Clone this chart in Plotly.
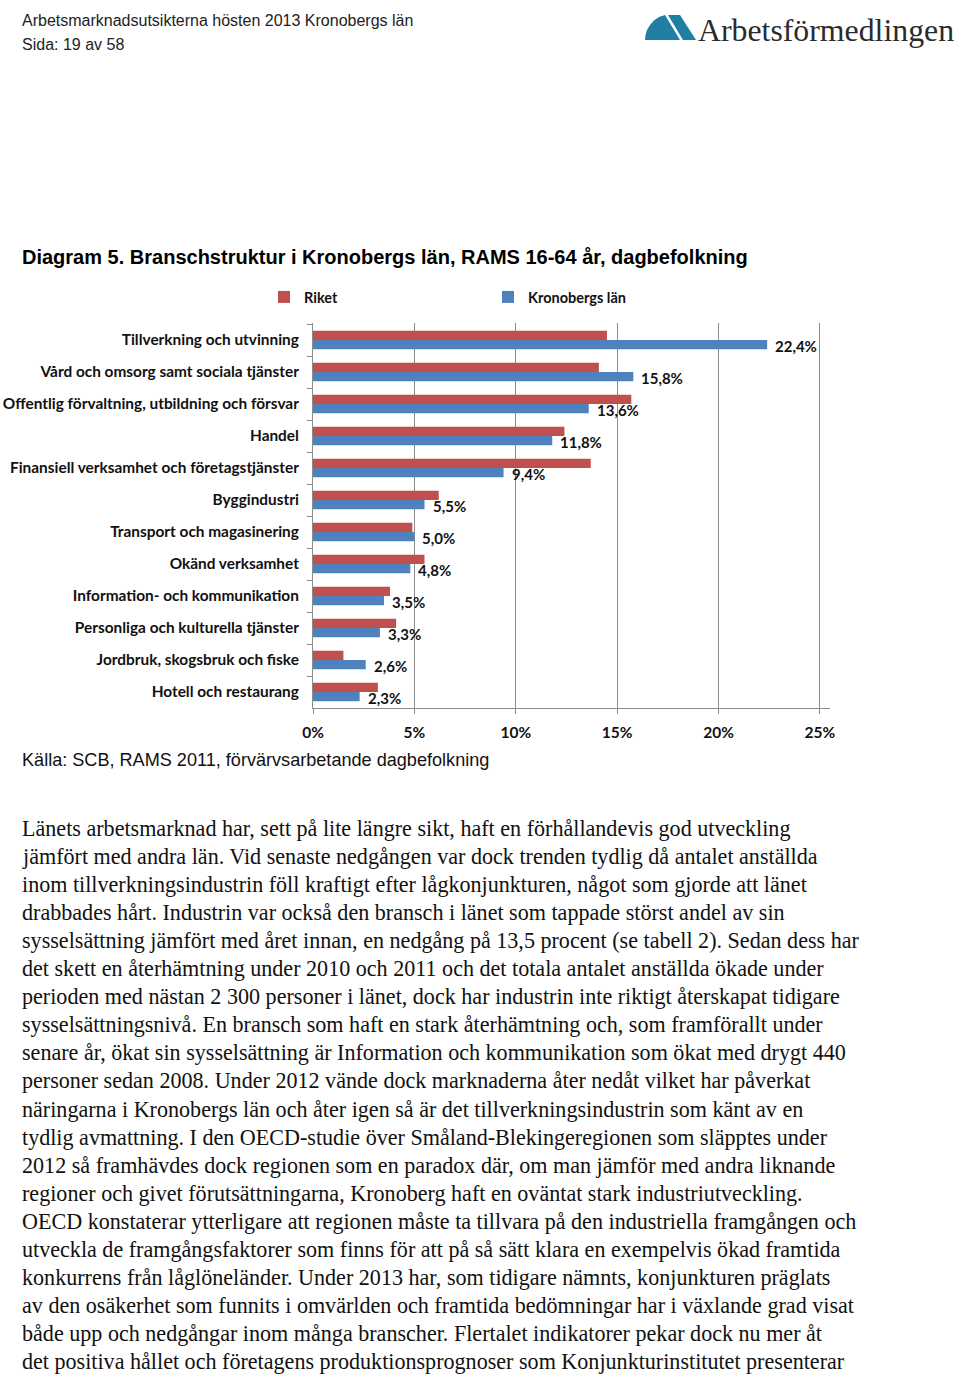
import plotly.graph_objects as go

# ---------------- data ----------------
categories = [
    "Tillverkning och utvinning",
    "Vård och omsorg samt sociala tjänster",
    "Offentlig förvaltning, utbildning och försvar",
    "Handel",
    "Finansiell verksamhet och företagstjänster",
    "Byggindustri",
    "Transport och magasinering",
    "Okänd verksamhet",
    "Information- och kommunikation",
    "Personliga och kulturella tjänster",
    "Jordbruk, skogsbruk och fiske",
    "Hotell och restaurang",
]
riket = [14.5, 14.1, 15.7, 12.4, 13.7, 6.2, 4.9, 5.5, 3.8, 4.1, 1.5, 3.2]
kronoberg = [22.4, 15.8, 13.6, 11.8, 9.4, 5.5, 5.0, 4.8, 3.5, 3.3, 2.6, 2.3]
series_names = ["Riket", "Kronobergs län"]
x_tick_vals = [0, 5, 10, 15, 20, 25]
x_tick_labels = ["0%", "5%", "10%", "15%", "20%", "25%"]

header_lines = ["Arbetsmarknadsutsikterna hösten 2013 Kronobergs län", "Sida: 19 av 58"]
logo_text = "Arbetsförmedlingen"
title_text = "Diagram 5. Branschstruktur i Kronobergs län, RAMS 16-64 år, dagbefolkning"
source_text = "Källa: SCB, RAMS 2011, förvärvsarbetande dagbefolkning"
body_lines = [
    "Länets arbetsmarknad har, sett på lite längre sikt, haft en förhållandevis god utveckling",
    "jämfört med andra län. Vid senaste nedgången var dock trenden tydlig då antalet anställda",
    "inom tillverkningsindustrin föll kraftigt efter lågkonjunkturen, något som gjorde att länet",
    "drabbades hårt. Industrin var också den bransch i länet som tappade störst andel av sin",
    "sysselsättning jämfört med året innan, en nedgång på 13,5 procent (se tabell 2). Sedan dess har",
    "det skett en återhämtning under 2010 och 2011 och det totala antalet anställda ökade under",
    "perioden med nästan 2 300 personer i länet, dock har industrin inte riktigt återskapat tidigare",
    "sysselsättningsnivå. En bransch som haft en stark återhämtning och, som framförallt under",
    "senare år, ökat sin sysselsättning är Information och kommunikation som ökat med drygt 440",
    "personer sedan 2008. Under 2012 vände dock marknaderna åter nedåt vilket har påverkat",
    "näringarna i Kronobergs län och åter igen så är det tillverkningsindustrin som känt av en",
    "tydlig avmattning. I den OECD-studie över Småland-Blekingeregionen som släpptes under",
    "2012 så framhävdes dock regionen som en paradox där, om man jämför med andra liknande",
    "regioner och givet förutsättningarna, Kronoberg haft en oväntat stark industriutveckling.",
    "OECD konstaterar ytterligare att regionen måste ta tillvara på den industriella framgången och",
    "utveckla de framgångsfaktorer som finns för att på så sätt klara en exempelvis ökad framtida",
    "konkurrens från låglöneländer. Under 2013 har, som tidigare nämnts, konjunkturen präglats",
    "av den osäkerhet som funnits i omvärlden och framtida bedömningar har i växlande grad visat",
    "både upp och nedgångar inom många branscher. Flertalet indikatorer pekar dock nu mer åt",
    "det positiva hållet och företagens produktionsprognoser som Konjunkturinstitutet presenterar",
]

# ---------------- helpers ----------------
W, H = 960, 1376
def px(x):
    return x / W
def py(y):
    return 1 - y / H

RED = "#C0504D"
BLUE = "#4F81BD"
GRID = "#8C8C8C"
CHART_FONT = "Lato"

fig = go.Figure()
fig.add_trace(go.Bar(y=categories, x=riket, name=series_names[0], orientation="h",
                     marker=dict(color=RED, line=dict(width=0))))
fig.add_trace(go.Bar(y=categories, x=kronoberg, name=series_names[1], orientation="h",
                     marker=dict(color=BLUE, line=dict(width=0))))

annotations = []
# data labels for Kronobergs län
for cat, v in zip(categories, kronoberg):
    annotations.append(dict(
        x=v, y=cat, xref="x", yref="y", showarrow=False,
        text=f"{v:.1f}".replace(".", ",") + "%",
        xanchor="left", yanchor="middle", xshift=6, yshift=-6,
        font=dict(family=CHART_FONT, size=15, color="#111", weight="bold"),
    ))

# header
annotations.append(dict(x=px(20), y=py(20), xref="paper", yref="paper", showarrow=False,
                        text=header_lines[0], xanchor="left", yanchor="middle",
                        font=dict(family="Liberation Sans", size=16, color="#222")))
annotations.append(dict(x=px(20), y=py(44), xref="paper", yref="paper", showarrow=False,
                        text=header_lines[1], xanchor="left", yanchor="middle",
                        font=dict(family="Liberation Sans", size=16, color="#222")))
# logo text
annotations.append(dict(x=px(696), y=py(31), xref="paper", yref="paper", showarrow=False,
                        text=logo_text, xanchor="left", yanchor="middle",
                        font=dict(family="Liberation Serif", size=31.8, color="#2b2b2b")))
# title
annotations.append(dict(x=px(20), y=py(257), xref="paper", yref="paper", showarrow=False,
                        text=title_text, xanchor="left", yanchor="middle",
                        font=dict(family="Liberation Sans", size=20, color="#000", weight="bold")))
# source
annotations.append(dict(x=px(20), y=py(760), xref="paper", yref="paper", showarrow=False,
                        text=source_text, xanchor="left", yanchor="middle",
                        font=dict(family="Liberation Sans", size=18.1, color="#111")))
# body text
for i, line in enumerate(body_lines):
    annotations.append(dict(x=px(20), y=py(828 + i * 28.1), xref="paper", yref="paper",
                            showarrow=False, text=line, xanchor="left", yanchor="middle",
                            font=dict(family="Liberation Serif", size=22.1, color="#111")))

# logo icon shapes (decoration)
def path_from(points):
    return "M " + " L ".join(f"{px(x):.5f},{py(y):.5f}" for x, y in points) + " Z"

shapes = [
    dict(type="path", xref="paper", yref="paper", line=dict(width=0), fillcolor="#1F7EA1",
         path=path_from([(645, 40), (645.5, 35), (647, 30), (650, 25), (654, 20.5),
                         (659, 17), (665, 15), (680, 40)])),
    dict(type="path", xref="paper", yref="paper", line=dict(width=0), fillcolor="#1F7EA1",
         path=path_from([(668, 15), (680, 15), (696, 40), (683, 40)])),
]

fig.update_layout(
    width=W, height=H, autosize=False,
    margin=dict(l=0, r=0, t=0, b=0, autoexpand=False),
    paper_bgcolor="white", plot_bgcolor="white",
    barmode="group", bargap=0.42, bargroupgap=0,
    font=dict(family=CHART_FONT, color="#111"),
    showlegend=True,
    legend=dict(orientation="h", x=px(264), y=py(297), xanchor="left", yanchor="middle",
                entrywidth=179, entrywidthmode="pixels",
                font=dict(family=CHART_FONT, size=14.5, color="#111", weight="bold"),
                bgcolor="rgba(0,0,0,0)"),
    xaxis=dict(domain=[px(313), px(830)], range=[0, 25.5], tickvals=x_tick_vals, ticktext=x_tick_labels,
               automargin=False,
               showgrid=True, gridcolor=GRID, gridwidth=1, zeroline=False,
               showline=True, linecolor=GRID, linewidth=1, ticks="outside", ticklen=5, tickcolor=GRID,
               tickfont=dict(family=CHART_FONT, size=15.5, color="#111", weight="bold"),
               ticklabelstandoff=5, fixedrange=True),
    yaxis=dict(domain=[py(708), py(323)], autorange="reversed", type="category",
               automargin=False,
               showline=True, linecolor=GRID, linewidth=1, showgrid=False,
               ticks="outside", tickson="boundaries", ticklen=5, tickcolor=GRID,
               tickfont=dict(family=CHART_FONT, size=15.4, color="#111", weight="bold"),
               ticklabelstandoff=10, fixedrange=True),
    annotations=annotations,
    shapes=shapes,
)

fig.write_html(
    "out.html",
    config={"responsive": False, "displayModeBar": False},
    post_script="document.body.style.margin='0';",
)
